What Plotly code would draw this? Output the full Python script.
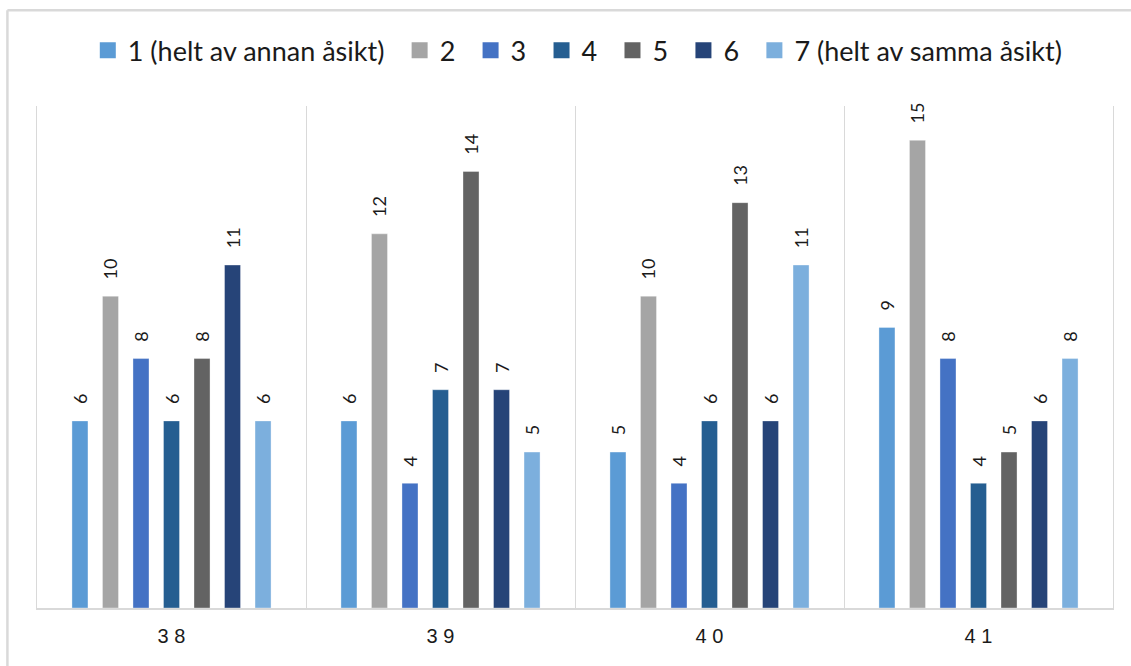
import plotly.graph_objects as go

# Survey answers per week, scale 1..7
categories = ["3 8", "3 9", "4 0", "4 1"]
series_names = [
    "1 (helt av annan åsikt)", "2", "3", "4", "5", "6", "7 (helt av samma åsikt)"
]
values = [
    [6, 6, 5, 9],
    [10, 12, 10, 15],
    [8, 4, 4, 8],
    [6, 7, 6, 4],
    [8, 14, 13, 5],
    [11, 7, 6, 6],
    [6, 5, 11, 8],
]
colors = ["#5B9BD5", "#A5A5A5", "#4472C4", "#255E91", "#636363", "#264478", "#7CAFDD"]

FONT = "Lato, Carlito, Calibri, sans-serif"
NBSP = "\u00a0"

fig = go.Figure()
for name, vals, col in zip(series_names, values, colors):
    fig.add_trace(go.Bar(
        name=name,
        x=categories,
        y=vals,
        showlegend=False,
        marker=dict(color=col, line=dict(color="rgba(255,255,255,0.35)", width=1)),
        # leading spaces lift the rotated label off the bar top
        text=[NBSP * 3 + str(v) for v in vals],
        textposition="outside",
        textangle=-90,
        constraintext="none",
        cliponaxis=False,
        textfont=dict(family=FONT, size=18, color="#1a1a1a"),
    ))

# Legend entries with large square swatches
for i, (name, col) in enumerate(zip(series_names, colors)):
    label = name if i == len(series_names) - 1 else name + NBSP + "\u2009"
    fig.add_trace(go.Scatter(
        name=label,
        x=[None],
        y=[None],
        mode="markers",
        marker=dict(symbol="square", size=16, color=col),
        showlegend=True,
        hoverinfo="skip",
    ))

fig.update_layout(
    width=1131,
    height=666,
    barmode="group",
    bargap=0.206,
    bargroupgap=0.475,
    plot_bgcolor="white",
    paper_bgcolor="white",
    margin=dict(l=37, r=18, t=106, b=58),
    font=dict(family=FONT, color="#1a1a1a"),
    showlegend=True,
    legend=dict(
        orientation="h",
        x=0.5026, xanchor="center",
        y=1.11, yanchor="middle",
        font=dict(family=FONT, size=27, color="#1a1a1a"),
        traceorder="normal",
        itemsizing="trace",
    ),
)

fig.update_xaxes(
    type="category",
    showgrid=True,
    gridcolor="#D9D9D9",
    gridwidth=1,
    tickson="boundaries",
    ticks="",
    showline=True,
    linecolor="#D9D9D9",
    linewidth=2,
    tickfont=dict(family="Liberation Sans, Arial, sans-serif", size=20, color="#1a1a1a"),
    ticklabelstandoff=9,
)
fig.update_yaxes(
    range=[0, 16.1],
    showgrid=False,
    showticklabels=False,
    ticks="",
    zeroline=False,
    showline=True,
    mirror=True,
    linecolor="#D9D9D9",
    linewidth=1,
)

# Light frame around the chart area (top and left edges visible)
fig.add_shape(type="line", xref="paper", yref="paper",
              x0=-0.0275, x1=1.02, y0=1.1907, y1=1.1907,
              line=dict(color="#D9D9D9", width=2.5))
fig.add_shape(type="line", xref="paper", yref="paper",
              x0=-0.0275, x1=-0.0275, y0=1.1907, y1=-0.2,
              line=dict(color="#D9D9D9", width=2.5))

fig.write_html("out.html")
